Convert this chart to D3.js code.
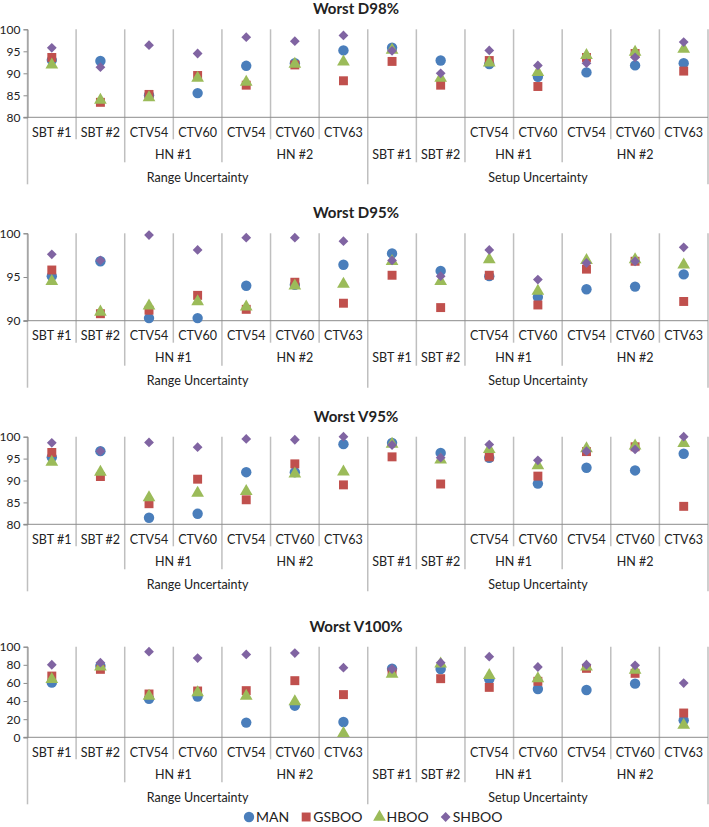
<!DOCTYPE html>
<html>
<head>
<meta charset="utf-8">
<script src="https://cdn.jsdelivr.net/npm/d3@7"></script>
<style>
  body { margin: 0; background: #fff; }
  text { font-family: Lato, "Open Sans", sans-serif; fill: #222; }
</style>
</head>
<body>
<div id="chart"></div>
<script>
//***************** data *******************/
// category axis, three levels (the Setup half puts SBT on level 2, like the source sheet)
var level1 = ["SBT #1","SBT #2","CTV54","CTV60","CTV54","CTV60","CTV63","","","CTV54","CTV60","CTV54","CTV60","CTV63"];
var level2 = ["","","HN #1","HN #1","HN #2","HN #2","HN #2","SBT #1","SBT #2","HN #1","HN #1","HN #2","HN #2","HN #2"];
var level3 = ["Range Uncertainty","Range Uncertainty","Range Uncertainty","Range Uncertainty","Range Uncertainty","Range Uncertainty","Range Uncertainty",
              "Setup Uncertainty","Setup Uncertainty","Setup Uncertainty","Setup Uncertainty","Setup Uncertainty","Setup Uncertainty","Setup Uncertainty"];

var seriesNames = ["MAN", "GSBOO", "HBOO", "SHBOO"];

// Worst D98%
var d98Man   = [93.0, 92.8, 85.0, 85.5, 91.7, 92.3, 95.2, 95.8, 92.9, 92.1, 89.2, 90.2, 91.8, 92.3];
var d98Gsboo = [93.6, 83.4, 85.2, 89.5, 87.3, 91.9, 88.3, 92.7, 87.3, 92.9, 87.0, 93.6, 94.5, 90.5];
var d98Hboo  = [91.9, 83.9, 84.5, 88.9, 88.0, 92.1, 92.6, 95.3, 88.9, 92.4, 90.2, 94.1, 94.8, 95.5];
var d98Shboo = [95.8, 91.4, 96.4, 94.5, 98.2, 97.3, 98.6, 95.1, 90.0, 95.2, 91.8, 92.3, 93.6, 97.1];

// Worst D95%
var d95Man   = [95.1, 96.8, 90.3, 90.3, 94.0, 94.1, 96.4, 97.7, 95.7, 95.1, 92.7, 93.6, 93.9, 95.3];
var d95Gsboo = [95.8, 90.8, 91.2, 92.9, 91.3, 94.4, 92.0, 95.2, 91.5, 95.2, 91.8, 95.9, 96.8, 92.2];
var d95Hboo  = [94.5, 91.0, 91.7, 92.2, 91.6, 94.0, 94.2, 96.8, 94.5, 97.0, 93.4, 96.9, 97.0, 96.4];
var d95Shboo = [97.6, 96.9, 99.8, 98.1, 99.5, 99.5, 99.1, 96.9, 95.1, 98.1, 94.7, 96.6, 96.8, 98.4];

// Worst V95%
var v95Man   = [95.3, 96.7, 81.5, 82.4, 91.9, 91.9, 98.3, 98.6, 96.3, 95.2, 89.3, 92.9, 92.3, 96.1];
var v95Gsboo = [96.4, 90.9, 84.7, 90.3, 85.6, 93.8, 89.0, 95.4, 89.2, 95.4, 91.0, 96.6, 97.7, 84.1];
var v95Hboo  = [94.2, 91.9, 86.1, 87.1, 87.5, 91.5, 92.0, 98.3, 94.7, 97.1, 93.4, 97.3, 97.9, 98.5];
var v95Shboo = [98.6, 96.7, 98.7, 97.6, 99.5, 99.3, 100.0, 98.1, 95.2, 98.2, 94.6, 96.7, 97.1, 100.0];

// Worst V100%
var v100Man   = [60.3, 78.7, 42.6, 44.9, 16.2, 34.9, 16.9, 75.7, 75.4, 64.0, 53.3, 52.2, 59.2, 18.8];
var v100Gsboo = [67.6, 75.0, 47.8, 51.1, 51.5, 62.5, 47.1, 71.7, 64.7, 55.1, 61.8, 76.1, 70.6, 26.8];
var v100Hboo  = [64.0, 77.9, 45.6, 49.3, 45.6, 39.3, 4.4, 69.9, 81.0, 68.4, 64.7, 77.9, 74.3, 13.6];
var v100Shboo = [80.1, 82.4, 94.5, 87.5, 91.5, 93.0, 76.8, 75.4, 82.4, 89.0, 77.6, 80.1, 79.4, 59.9];

var titles = ["Worst D98%", "Worst D95%", "Worst V95%", "Worst V100%"];
var yDomains = [[80, 100], [90, 100], [80, 100], [0, 100]];
var yTicks = [[80, 85, 90, 95, 100], [90, 95, 100], [80, 85, 90, 95, 100], [0, 20, 40, 60, 80, 100]];
var panelSeries = [
  [d98Man, d98Gsboo, d98Hboo, d98Shboo],
  [d95Man, d95Gsboo, d95Hboo, d95Shboo],
  [v95Man, v95Gsboo, v95Hboo, v95Shboo],
  [v100Man, v100Gsboo, v100Hboo, v100Shboo]
];

//************* set dimensions ***************/
var W = 709, H = 827;
var plotLeft = 27.5, plotRight = 708;
var panelTop = [29.3, 233.3, 436.7, 646.7];
var panelBottom = [117.3, 320.7, 524.3, 737.3];
var rowLabel = [15, 37, 60];   // label centre below axis, per level
var rowDepth = [22, 45, 67];   // separator depth below axis, per level

var colors = ["#4a7ebb", "#c0504d", "#9bbb59", "#8064a2"];
// excel-like diamond: a square turned 45 degrees
var shapes = [d3.symbolCircle, d3.symbolSquare, d3.symbolTriangle, d3.symbolSquare];
var sizes = [85, 80, 70, 48];
var rotate = [0, 0, 0, 45];
var gridColor = "#bfbfbf";

var svg = d3.select("#chart")
  .append("svg")
    .attr("width", W)
    .attr("height", H);

var x = d3.scaleBand()
  .domain(d3.range(level1.length))
  .range([plotLeft, plotRight]);

// which level a boundary between two categories reaches down to
function boundaryLevel(i) {
  if (i <= 0 || i >= level1.length) return 2;
  if (level3[i] !== level3[i - 1]) return 2;
  if (level2[i] !== level2[i - 1]) return 1;
  return 0;
}

// spans of equal consecutive labels
function spans(labels) {
  var out = [];
  labels.forEach(function(l, i) {
    var last = out[out.length - 1];
    if (last && last.label === l) last.end = i;
    else out.push({label: l, start: i, end: i});
  });
  return out.filter(function(s) { return s.label !== ""; });
}

//***************** panels *******************/
titles.forEach(function(title, p) {
  var top = panelTop[p], bottom = panelBottom[p];
  var g = svg.append("g");

  var y = d3.scaleLinear()
    .domain(yDomains[p])
    .range([bottom, top]);

  // title
  g.append("text")
    .attr("x", 356)
    .attr("y", top - 15)
    .attr("text-anchor", "middle")
    .attr("font-size", "15px")
    .attr("font-weight", "bold")
    .text(title);

  // category separators (also the vertical gridlines)
  d3.range(level1.length + 1).forEach(function(i) {
    var xx = i < level1.length ? x(i) : plotRight;
    g.append("line")
      .attr("x1", xx).attr("x2", xx)
      .attr("y1", top).attr("y2", bottom + rowDepth[boundaryLevel(i)])
      .attr("stroke", gridColor)
      .attr("stroke-width", 1.5);
  });

  // y axis
  var yAxis = d3.axisLeft(y)
    .tickValues(yTicks[p])
    .tickSize(4)
    .tickPadding(3);
  var ya = g.append("g")
    .attr("transform", "translate(" + plotLeft + ",0)")
    .call(yAxis);
  ya.select(".domain").attr("stroke", "#8c8c8c");
  ya.selectAll(".tick line").attr("stroke", "#8c8c8c");
  ya.selectAll("text").attr("font-size", "12px").attr("fill", "#222")
    .style("font-family", "Lato, 'Open Sans', sans-serif");

  // x axis line
  g.append("line")
    .attr("x1", plotLeft - 4).attr("x2", plotRight)
    .attr("y1", bottom).attr("y2", bottom)
    .attr("stroke", "#8c8c8c")
    .attr("stroke-width", 1);

  // category labels
  [level1, level2, level3].forEach(function(labels, lv) {
    spans(labels).forEach(function(s) {
      g.append("text")
        .attr("x", (x(s.start) + x(s.end) + x.bandwidth()) / 2)
        .attr("y", bottom + rowLabel[lv])
        .attr("dy", "0.35em")
        .attr("text-anchor", "middle")
        .attr("font-size", "12.5px")
        .text(s.label);
    });
  });

  // markers, series order MAN -> SHBOO so SHBOO ends on top
  panelSeries[p].forEach(function(values, s) {
    g.append("g")
      .selectAll("path")
      .data(values)
      .enter()
      .append("path")
        .attr("d", d3.symbol().type(shapes[s]).size(sizes[s]))
        .attr("transform", function(d, i) {
          return "translate(" + (x(i) + x.bandwidth() / 2) + "," + y(d) + ") rotate(" + rotate[s] + ")";
        })
        .attr("fill", colors[s]);
  });
});

//***************** legend *******************/
var legend = svg.append("g");
var lx = 249;
seriesNames.forEach(function(name, s) {
  legend.append("path")
    .attr("d", d3.symbol().type(shapes[s]).size(sizes[s]))
    .attr("transform", "translate(" + lx + ",817) rotate(" + rotate[s] + ")")
    .attr("fill", colors[s]);
  var t = legend.append("text")
    .attr("x", lx + 7)
    .attr("y", 817)
    .attr("dy", "0.35em")
    .attr("font-size", "14px")
    .text(name);
  lx += 7 + t.node().getComputedTextLength() + 17;
});
</script>
</body>
</html>
